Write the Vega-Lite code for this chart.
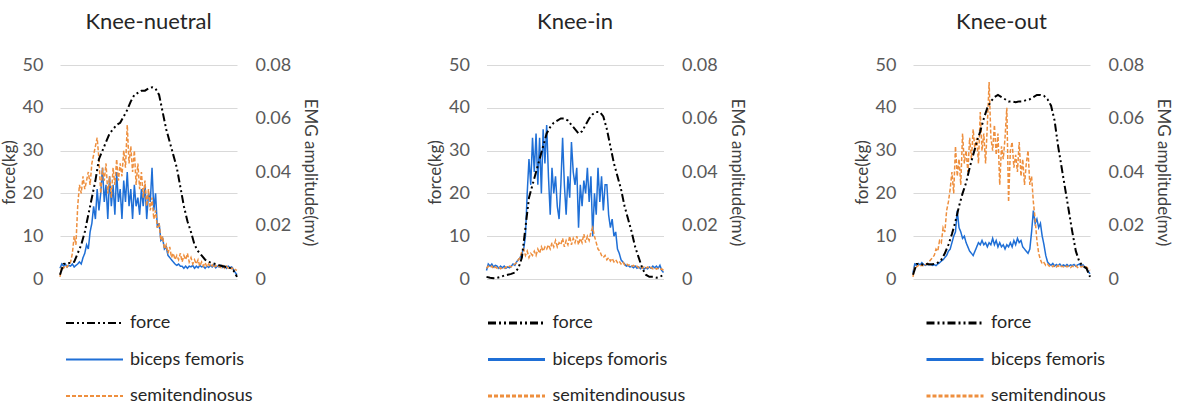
{
"$schema":"https://vega.github.io/schema/vega-lite/v6.json",
"padding":{"left":0,"top":11,"right":4,"bottom":0},
"config":{"font":"Lato","view":{"stroke":null},"concat":{"spacing":107.5},
"axis":{"labelFont":"Lato","titleFont":"Lato","labelFontSize":18,"titleFontSize":17,"titleFontWeight":"normal","labelColor":"#595959","titleColor":"#404040","domain":false,"ticks":false,"tickSize":0,"labelFlush":false,"labelOverlap":false,"gridColor":"#d9d9d9","gridWidth":1},
"title":{"font":"Lato","fontSize":22,"fontWeight":"normal","color":"#262626","frame":"group","offset":22,"anchor":"middle"}},
"datasets":{
"f1":[{"t":0,"force":1},{"t":2,"force":3.5},{"t":4,"force":3.6},{"t":6,"force":3.8},{"t":8,"force":4},{"t":10,"force":6},{"t":12,"force":8},{"t":14,"force":11},{"t":16,"force":15},{"t":18,"force":19},{"t":20,"force":23},{"t":22,"force":28},{"t":24,"force":30},{"t":26,"force":32},{"t":28,"force":34},{"t":30,"force":35},{"t":32,"force":36},{"t":34,"force":36.5},{"t":36,"force":38},{"t":38,"force":39.5},{"t":40,"force":41.5},{"t":42,"force":43},{"t":44,"force":43.5},{"t":46,"force":44},{"t":48,"force":44},{"t":50,"force":44.5},{"t":52,"force":44.8},{"t":54,"force":44.5},{"t":56,"force":43},{"t":58,"force":39},{"t":60,"force":35},{"t":62,"force":32},{"t":64,"force":29},{"t":66,"force":26},{"t":68,"force":21.5},{"t":70,"force":17},{"t":72,"force":13.5},{"t":74,"force":11},{"t":76,"force":8},{"t":78,"force":6.5},{"t":80,"force":5.5},{"t":82,"force":4.5},{"t":84,"force":4},{"t":86,"force":3.7},{"t":88,"force":3.5},{"t":90,"force":3.2},{"t":92,"force":3},{"t":94,"force":2.8},{"t":96,"force":2.6},{"t":98,"force":2},{"t":100,"force":0.5}],
"f2":[{"t":0,"force":0.5},{"t":2,"force":0.3},{"t":4,"force":0.2},{"t":6,"force":0.3},{"t":8,"force":0.5},{"t":10,"force":0.8},{"t":12,"force":1},{"t":14,"force":1.2},{"t":16,"force":1.5},{"t":18,"force":2.5},{"t":20,"force":5},{"t":22,"force":12},{"t":24,"force":19},{"t":26,"force":22},{"t":28,"force":25},{"t":30,"force":28},{"t":32,"force":31},{"t":34,"force":34},{"t":36,"force":35.5},{"t":38,"force":36.5},{"t":40,"force":37},{"t":42,"force":37.5},{"t":44,"force":37.5},{"t":46,"force":37},{"t":48,"force":36},{"t":50,"force":35},{"t":52,"force":34},{"t":54,"force":34.5},{"t":56,"force":36},{"t":58,"force":37.5},{"t":60,"force":38.5},{"t":62,"force":39},{"t":64,"force":39},{"t":66,"force":38},{"t":68,"force":35},{"t":70,"force":31},{"t":72,"force":27},{"t":74,"force":24},{"t":76,"force":21},{"t":78,"force":17},{"t":80,"force":14},{"t":82,"force":11},{"t":84,"force":7.5},{"t":86,"force":5},{"t":88,"force":2.5},{"t":90,"force":1},{"t":92,"force":0.5},{"t":94,"force":0.5},{"t":96,"force":0.3},{"t":98,"force":0.5},{"t":100,"force":1}],
"f3":[{"t":0,"force":1},{"t":2,"force":3.5},{"t":4,"force":3.5},{"t":6,"force":3.3},{"t":8,"force":3.5},{"t":10,"force":3.4},{"t":12,"force":3.5},{"t":14,"force":3.8},{"t":16,"force":4.5},{"t":18,"force":6},{"t":20,"force":8},{"t":22,"force":10.5},{"t":24,"force":13.5},{"t":26,"force":17},{"t":28,"force":20},{"t":30,"force":22.5},{"t":32,"force":26},{"t":34,"force":29},{"t":36,"force":32},{"t":38,"force":34.5},{"t":40,"force":37.5},{"t":42,"force":40},{"t":44,"force":41.5},{"t":46,"force":42.5},{"t":48,"force":43},{"t":50,"force":42.5},{"t":52,"force":42},{"t":54,"force":41.5},{"t":56,"force":41.5},{"t":58,"force":41.3},{"t":60,"force":41.5},{"t":62,"force":41.5},{"t":64,"force":41.8},{"t":66,"force":42},{"t":68,"force":42.5},{"t":70,"force":43},{"t":72,"force":43},{"t":74,"force":42.8},{"t":76,"force":42},{"t":78,"force":40.5},{"t":80,"force":37},{"t":82,"force":31},{"t":84,"force":26},{"t":86,"force":21},{"t":88,"force":16},{"t":90,"force":11},{"t":92,"force":6.5},{"t":94,"force":4},{"t":96,"force":3},{"t":98,"force":2.5},{"t":100,"force":0.5}],
"e1":[
{"t":0,"biceps femoris":0.004,"semitendinosus":0.0008},{"t":1,"biceps femoris":0.0056,"semitendinosus":0.0048},{"t":2,"biceps femoris":0.0048,"semitendinosus":0.004},{"t":3,"biceps femoris":0.0056,"semitendinosus":0.0051},{"t":4,"biceps femoris":0.0045,"semitendinosus":0.0045},{"t":5,"biceps femoris":0.0051,"semitendinosus":0.0056},{"t":6,"biceps femoris":0.0048,"semitendinosus":0.0064},{"t":7,"biceps femoris":0.0056,"semitendinosus":0.0096},{"t":8,"biceps femoris":0.0045,"semitendinosus":0.016},{"t":9,"biceps femoris":0.0051,"semitendinosus":0.0128},
{"t":10,"biceps femoris":0.0056,"semitendinosus":0.0272},{"t":11,"biceps femoris":0.0064,"semitendinosus":0.0352},{"t":12,"biceps femoris":0.0056,"semitendinosus":0.032},{"t":13,"biceps femoris":0.008,"semitendinosus":0.0384},{"t":14,"biceps femoris":0.0096,"semitendinosus":0.0336},{"t":15,"biceps femoris":0.0128,"semitendinosus":0.0368},{"t":16,"biceps femoris":0.0112,"semitendinosus":0.04},{"t":17,"biceps femoris":0.0176,"semitendinosus":0.0352},{"t":18,"biceps femoris":0.0208,"semitendinosus":0.0432},{"t":19,"biceps femoris":0.0272,"semitendinosus":0.0464},
{"t":20,"biceps femoris":0.0224,"semitendinosus":0.0496},{"t":21,"biceps femoris":0.0336,"semitendinosus":0.0528},{"t":22,"biceps femoris":0.0256,"semitendinosus":0.0448},{"t":23,"biceps femoris":0.032,"semitendinosus":0.032},{"t":24,"biceps femoris":0.0416,"semitendinosus":0.0416},{"t":25,"biceps femoris":0.0288,"semitendinosus":0.0368},{"t":26,"biceps femoris":0.0352,"semitendinosus":0.0432},{"t":27,"biceps femoris":0.0224,"semitendinosus":0.032},{"t":28,"biceps femoris":0.0384,"semitendinosus":0.0384},{"t":29,"biceps femoris":0.0272,"semitendinosus":0.0304},
{"t":30,"biceps femoris":0.0352,"semitendinosus":0.0416},{"t":31,"biceps femoris":0.024,"semitendinosus":0.0352},{"t":32,"biceps femoris":0.04,"semitendinosus":0.0448},{"t":33,"biceps femoris":0.0288,"semitendinosus":0.0368},{"t":34,"biceps femoris":0.0336,"semitendinosus":0.0432},{"t":35,"biceps femoris":0.0224,"semitendinosus":0.0384},{"t":36,"biceps femoris":0.0368,"semitendinosus":0.048},{"t":37,"biceps femoris":0.0288,"semitendinosus":0.0416},{"t":38,"biceps femoris":0.04,"semitendinosus":0.0576},{"t":39,"biceps femoris":0.0272,"semitendinosus":0.0432},
{"t":40,"biceps femoris":0.0336,"semitendinosus":0.0496},{"t":41,"biceps femoris":0.0224,"semitendinosus":0.04},{"t":42,"biceps femoris":0.0352,"semitendinosus":0.048},{"t":43,"biceps femoris":0.0272,"semitendinosus":0.0352},{"t":44,"biceps femoris":0.0304,"semitendinosus":0.0432},{"t":45,"biceps femoris":0.024,"semitendinosus":0.0336},{"t":46,"biceps femoris":0.0336,"semitendinosus":0.04},{"t":47,"biceps femoris":0.0272,"semitendinosus":0.0304},{"t":48,"biceps femoris":0.0352,"semitendinosus":0.0368},{"t":49,"biceps femoris":0.0224,"semitendinosus":0.0272},
{"t":50,"biceps femoris":0.032,"semitendinosus":0.0336},{"t":51,"biceps femoris":0.0288,"semitendinosus":0.0256},{"t":52,"biceps femoris":0.0416,"semitendinosus":0.0304},{"t":53,"biceps femoris":0.0256,"semitendinosus":0.0224},{"t":54,"biceps femoris":0.032,"semitendinosus":0.0256},{"t":55,"biceps femoris":0.0192,"semitendinosus":0.0192},{"t":56,"biceps femoris":0.0208,"semitendinosus":0.0208},{"t":57,"biceps femoris":0.0144,"semitendinosus":0.0144},{"t":58,"biceps femoris":0.0152,"semitendinosus":0.016},{"t":59,"biceps femoris":0.0112,"semitendinosus":0.0112},
{"t":60,"biceps femoris":0.012,"semitendinosus":0.0128},{"t":61,"biceps femoris":0.0088,"semitendinosus":0.0096},{"t":62,"biceps femoris":0.008,"semitendinosus":0.012},{"t":63,"biceps femoris":0.0072,"semitendinosus":0.008},{"t":64,"biceps femoris":0.0064,"semitendinosus":0.0096},{"t":65,"biceps femoris":0.0056,"semitendinosus":0.0072},{"t":66,"biceps femoris":0.0051,"semitendinosus":0.0088},{"t":67,"biceps femoris":0.0056,"semitendinosus":0.0072},{"t":68,"biceps femoris":0.0048,"semitendinosus":0.0096},{"t":69,"biceps femoris":0.0048,"semitendinosus":0.0064},
{"t":70,"biceps femoris":0.004,"semitendinosus":0.0088},{"t":71,"biceps femoris":0.0048,"semitendinosus":0.0072},{"t":72,"biceps femoris":0.004,"semitendinosus":0.0096},{"t":73,"biceps femoris":0.0048,"semitendinosus":0.0064},{"t":74,"biceps femoris":0.0045,"semitendinosus":0.008},{"t":75,"biceps femoris":0.0051,"semitendinosus":0.0056},{"t":76,"biceps femoris":0.004,"semitendinosus":0.0072},{"t":77,"biceps femoris":0.0048,"semitendinosus":0.0056},{"t":78,"biceps femoris":0.0042,"semitendinosus":0.0072},{"t":79,"biceps femoris":0.0051,"semitendinosus":0.0048},
{"t":80,"biceps femoris":0.0045,"semitendinosus":0.0064},{"t":81,"biceps femoris":0.0048,"semitendinosus":0.0048},{"t":82,"biceps femoris":0.004,"semitendinosus":0.0061},{"t":83,"biceps femoris":0.0048,"semitendinosus":0.0045},{"t":84,"biceps femoris":0.0043,"semitendinosus":0.0056},{"t":85,"biceps femoris":0.0051,"semitendinosus":0.0045},{"t":86,"biceps femoris":0.0045,"semitendinosus":0.0053},{"t":87,"biceps femoris":0.0053,"semitendinosus":0.0042},{"t":88,"biceps femoris":0.0042,"semitendinosus":0.0051},{"t":89,"biceps femoris":0.0048,"semitendinosus":0.0043},
{"t":90,"biceps femoris":0.0045,"semitendinosus":0.0048},{"t":91,"biceps femoris":0.0051,"semitendinosus":0.0042},{"t":92,"biceps femoris":0.0043,"semitendinosus":0.005},{"t":93,"biceps femoris":0.0048,"semitendinosus":0.004},{"t":94,"biceps femoris":0.004,"semitendinosus":0.0048},{"t":95,"biceps femoris":0.0048,"semitendinosus":0.004},{"t":96,"biceps femoris":0.0042,"semitendinosus":0.0045},{"t":97,"biceps femoris":0.0045,"semitendinosus":0.0038},{"t":98,"biceps femoris":0.0035,"semitendinosus":0.0042},{"t":99,"biceps femoris":0.0024,"semitendinosus":0.0035},
{"t":100,"biceps femoris":0.0016,"semitendinosus":0.0032}],
"e2":[
{"t":0,"biceps fomoris":0.0032,"semitendinousus":0.004},{"t":1,"biceps fomoris":0.0056,"semitendinousus":0.0048},{"t":2,"biceps fomoris":0.0048,"semitendinousus":0.0042},{"t":3,"biceps fomoris":0.0056,"semitendinousus":0.0048},{"t":4,"biceps fomoris":0.0045,"semitendinousus":0.0038},{"t":5,"biceps fomoris":0.0051,"semitendinousus":0.0045},{"t":6,"biceps fomoris":0.0048,"semitendinousus":0.004},{"t":7,"biceps fomoris":0.004,"semitendinousus":0.0045},{"t":8,"biceps fomoris":0.0048,"semitendinousus":0.0038},{"t":9,"biceps fomoris":0.0042,"semitendinousus":0.0043},
{"t":10,"biceps fomoris":0.0048,"semitendinousus":0.004},{"t":11,"biceps fomoris":0.004,"semitendinousus":0.0045},{"t":12,"biceps fomoris":0.0045,"semitendinousus":0.0042},{"t":13,"biceps fomoris":0.0042,"semitendinousus":0.0048},{"t":14,"biceps fomoris":0.0048,"semitendinousus":0.0045},{"t":15,"biceps fomoris":0.0056,"semitendinousus":0.0051},{"t":16,"biceps fomoris":0.0051,"semitendinousus":0.0056},{"t":17,"biceps fomoris":0.0064,"semitendinousus":0.0061},{"t":18,"biceps fomoris":0.0072,"semitendinousus":0.0072},{"t":19,"biceps fomoris":0.008,"semitendinousus":0.008},
{"t":20,"biceps fomoris":0.0096,"semitendinousus":0.0104},{"t":21,"biceps fomoris":0.0112,"semitendinousus":0.0112},{"t":22,"biceps fomoris":0.016,"semitendinousus":0.0088},{"t":23,"biceps fomoris":0.032,"semitendinousus":0.0104},{"t":24,"biceps fomoris":0.0448,"semitendinousus":0.008},{"t":25,"biceps fomoris":0.0352,"semitendinousus":0.0096},{"t":26,"biceps fomoris":0.0528,"semitendinousus":0.0088},{"t":27,"biceps fomoris":0.04,"semitendinousus":0.0104},{"t":28,"biceps fomoris":0.0544,"semitendinousus":0.0088},{"t":29,"biceps fomoris":0.0352,"semitendinousus":0.0112},
{"t":30,"biceps fomoris":0.0528,"semitendinousus":0.0096},{"t":31,"biceps fomoris":0.032,"semitendinousus":0.012},{"t":32,"biceps fomoris":0.056,"semitendinousus":0.0104},{"t":33,"biceps fomoris":0.0432,"semitendinousus":0.012},{"t":34,"biceps fomoris":0.0576,"semitendinousus":0.0112},{"t":35,"biceps fomoris":0.0384,"semitendinousus":0.0128},{"t":36,"biceps fomoris":0.024,"semitendinousus":0.0112},{"t":37,"biceps fomoris":0.0416,"semitendinousus":0.0136},{"t":38,"biceps fomoris":0.032,"semitendinousus":0.012},{"t":39,"biceps fomoris":0.0384,"semitendinousus":0.0144},
{"t":40,"biceps fomoris":0.0272,"semitendinousus":0.012},{"t":41,"biceps fomoris":0.0224,"semitendinousus":0.0136},{"t":42,"biceps fomoris":0.0352,"semitendinousus":0.0128},{"t":43,"biceps fomoris":0.0528,"semitendinousus":0.0152},{"t":44,"biceps fomoris":0.0352,"semitendinousus":0.012},{"t":45,"biceps fomoris":0.024,"semitendinousus":0.0144},{"t":46,"biceps fomoris":0.0384,"semitendinousus":0.0128},{"t":47,"biceps fomoris":0.0304,"semitendinousus":0.016},{"t":48,"biceps fomoris":0.0512,"semitendinousus":0.0128},{"t":49,"biceps fomoris":0.04,"semitendinousus":0.0152},
{"t":50,"biceps fomoris":0.0352,"semitendinousus":0.0136},{"t":51,"biceps fomoris":0.0416,"semitendinousus":0.016},{"t":52,"biceps fomoris":0.0192,"semitendinousus":0.0128},{"t":53,"biceps fomoris":0.0352,"semitendinousus":0.0152},{"t":54,"biceps fomoris":0.0272,"semitendinousus":0.0136},{"t":55,"biceps fomoris":0.0368,"semitendinousus":0.0168},{"t":56,"biceps fomoris":0.032,"semitendinousus":0.0136},{"t":57,"biceps fomoris":0.0416,"semitendinousus":0.016},{"t":58,"biceps fomoris":0.0288,"semitendinousus":0.0144},{"t":59,"biceps fomoris":0.0384,"semitendinousus":0.0176},
{"t":60,"biceps fomoris":0.016,"semitendinousus":0.0192},{"t":61,"biceps fomoris":0.032,"semitendinousus":0.016},{"t":62,"biceps fomoris":0.024,"semitendinousus":0.0136},{"t":63,"biceps fomoris":0.0416,"semitendinousus":0.0112},{"t":64,"biceps fomoris":0.0288,"semitendinousus":0.0104},{"t":65,"biceps fomoris":0.0384,"semitendinousus":0.0088},{"t":66,"biceps fomoris":0.0256,"semitendinousus":0.008},{"t":67,"biceps fomoris":0.0352,"semitendinousus":0.0088},{"t":68,"biceps fomoris":0.0352,"semitendinousus":0.0072},{"t":69,"biceps fomoris":0.024,"semitendinousus":0.008},
{"t":70,"biceps fomoris":0.0192,"semitendinousus":0.0067},{"t":71,"biceps fomoris":0.0224,"semitendinousus":0.0077},{"t":72,"biceps fomoris":0.016,"semitendinousus":0.0064},{"t":73,"biceps fomoris":0.0176,"semitendinousus":0.0072},{"t":74,"biceps fomoris":0.0112,"semitendinousus":0.0061},{"t":75,"biceps fomoris":0.0096,"semitendinousus":0.0067},{"t":76,"biceps fomoris":0.0072,"semitendinousus":0.0056},{"t":77,"biceps fomoris":0.0064,"semitendinousus":0.0064},{"t":78,"biceps fomoris":0.0056,"semitendinousus":0.0053},{"t":79,"biceps fomoris":0.0048,"semitendinousus":0.0058},
{"t":80,"biceps fomoris":0.0051,"semitendinousus":0.0051},{"t":81,"biceps fomoris":0.0045,"semitendinousus":0.0054},{"t":82,"biceps fomoris":0.0048,"semitendinousus":0.0048},{"t":83,"biceps fomoris":0.0042,"semitendinousus":0.0051},{"t":84,"biceps fomoris":0.0048,"semitendinousus":0.0045},{"t":85,"biceps fomoris":0.004,"semitendinousus":0.0048},{"t":86,"biceps fomoris":0.0045,"semitendinousus":0.0042},{"t":87,"biceps fomoris":0.0038,"semitendinousus":0.0046},{"t":88,"biceps fomoris":0.0043,"semitendinousus":0.004},{"t":89,"biceps fomoris":0.0037,"semitendinousus":0.0045},
{"t":90,"biceps fomoris":0.0042,"semitendinousus":0.004},{"t":91,"biceps fomoris":0.0038,"semitendinousus":0.0045},{"t":92,"biceps fomoris":0.0045,"semitendinousus":0.0038},{"t":93,"biceps fomoris":0.004,"semitendinousus":0.0043},{"t":94,"biceps fomoris":0.0048,"semitendinousus":0.0038},{"t":95,"biceps fomoris":0.0042,"semitendinousus":0.0042},{"t":96,"biceps fomoris":0.0048,"semitendinousus":0.0037},{"t":97,"biceps fomoris":0.004,"semitendinousus":0.004},{"t":98,"biceps fomoris":0.0051,"semitendinousus":0.0035},{"t":99,"biceps fomoris":0.0032,"semitendinousus":0.0038},
{"t":100,"biceps fomoris":0.0024,"semitendinousus":0.0032}],
"e3":[
{"t":0,"biceps femoris":0.0024,"semitendinous":0.0008},{"t":1,"biceps femoris":0.0056,"semitendinous":0.0048},{"t":2,"biceps femoris":0.0051,"semitendinous":0.0045},{"t":3,"biceps femoris":0.0058,"semitendinous":0.0051},{"t":4,"biceps femoris":0.0053,"semitendinous":0.0046},{"t":5,"biceps femoris":0.0061,"semitendinous":0.0053},{"t":6,"biceps femoris":0.0054,"semitendinous":0.0048},{"t":7,"biceps femoris":0.0051,"semitendinous":0.0054},{"t":8,"biceps femoris":0.0058,"semitendinous":0.0056},{"t":9,"biceps femoris":0.0053,"semitendinous":0.0064},
{"t":10,"biceps femoris":0.0056,"semitendinous":0.0072},{"t":11,"biceps femoris":0.0051,"semitendinous":0.008},{"t":12,"biceps femoris":0.0054,"semitendinous":0.0088},{"t":13,"biceps femoris":0.005,"semitendinous":0.0112},{"t":14,"biceps femoris":0.0056,"semitendinous":0.0104},{"t":15,"biceps femoris":0.0061,"semitendinous":0.0144},{"t":16,"biceps femoris":0.0067,"semitendinous":0.0136},{"t":17,"biceps femoris":0.0072,"semitendinous":0.0192},{"t":18,"biceps femoris":0.008,"semitendinous":0.0176},{"t":19,"biceps femoris":0.0088,"semitendinous":0.0256},
{"t":20,"biceps femoris":0.0104,"semitendinous":0.0288},{"t":21,"biceps femoris":0.0112,"semitendinous":0.0336},{"t":22,"biceps femoris":0.0136,"semitendinous":0.04},{"t":23,"biceps femoris":0.016,"semitendinous":0.032},{"t":24,"biceps femoris":0.0176,"semitendinous":0.0496},{"t":25,"biceps femoris":0.0256,"semitendinous":0.0384},{"t":26,"biceps femoris":0.0192,"semitendinous":0.0448},{"t":27,"biceps femoris":0.0176,"semitendinous":0.0352},{"t":28,"biceps femoris":0.0152,"semitendinous":0.0544},{"t":29,"biceps femoris":0.016,"semitendinous":0.0432},
{"t":30,"biceps femoris":0.0136,"semitendinous":0.048},{"t":31,"biceps femoris":0.012,"semitendinous":0.04},{"t":32,"biceps femoris":0.0104,"semitendinous":0.0528},{"t":33,"biceps femoris":0.0096,"semitendinous":0.0448},{"t":34,"biceps femoris":0.0088,"semitendinous":0.056},{"t":35,"biceps femoris":0.0104,"semitendinous":0.048},{"t":36,"biceps femoris":0.012,"semitendinous":0.0528},{"t":37,"biceps femoris":0.0136,"semitendinous":0.0432},{"t":38,"biceps femoris":0.0128,"semitendinous":0.0624},{"t":39,"biceps femoris":0.0144,"semitendinous":0.048},
{"t":40,"biceps femoris":0.0128,"semitendinous":0.0544},{"t":41,"biceps femoris":0.0136,"semitendinous":0.0432},{"t":42,"biceps femoris":0.012,"semitendinous":0.0576},{"t":43,"biceps femoris":0.0136,"semitendinous":0.0736},{"t":44,"biceps femoris":0.0128,"semitendinous":0.0528},{"t":45,"biceps femoris":0.0152,"semitendinous":0.048},{"t":46,"biceps femoris":0.0128,"semitendinous":0.0576},{"t":47,"biceps femoris":0.0144,"semitendinous":0.0464},{"t":48,"biceps femoris":0.012,"semitendinous":0.0544},{"t":49,"biceps femoris":0.0136,"semitendinous":0.0352},
{"t":50,"biceps femoris":0.012,"semitendinous":0.0496},{"t":51,"biceps femoris":0.0128,"semitendinous":0.0448},{"t":52,"biceps femoris":0.0112,"semitendinous":0.0528},{"t":53,"biceps femoris":0.0128,"semitendinous":0.064},{"t":54,"biceps femoris":0.012,"semitendinous":0.0288},{"t":55,"biceps femoris":0.0136,"semitendinous":0.048},{"t":56,"biceps femoris":0.012,"semitendinous":0.0512},{"t":57,"biceps femoris":0.0144,"semitendinous":0.0416},{"t":58,"biceps femoris":0.0128,"semitendinous":0.0464},{"t":59,"biceps femoris":0.0152,"semitendinous":0.04},
{"t":60,"biceps femoris":0.0136,"semitendinous":0.0512},{"t":61,"biceps femoris":0.0144,"semitendinous":0.0384},{"t":62,"biceps femoris":0.012,"semitendinous":0.0448},{"t":63,"biceps femoris":0.0112,"semitendinous":0.0352},{"t":64,"biceps femoris":0.0104,"semitendinous":0.0432},{"t":65,"biceps femoris":0.0096,"semitendinous":0.048},{"t":66,"biceps femoris":0.0112,"semitendinous":0.0352},{"t":67,"biceps femoris":0.0176,"semitendinous":0.0384},{"t":68,"biceps femoris":0.0256,"semitendinous":0.0288},{"t":69,"biceps femoris":0.0208,"semitendinous":0.0224},
{"t":70,"biceps femoris":0.0224,"semitendinous":0.0144},{"t":71,"biceps femoris":0.0192,"semitendinous":0.0096},{"t":72,"biceps femoris":0.0208,"semitendinous":0.0072},{"t":73,"biceps femoris":0.016,"semitendinous":0.0056},{"t":74,"biceps femoris":0.0128,"semitendinous":0.0061},{"t":75,"biceps femoris":0.0088,"semitendinous":0.0051},{"t":76,"biceps femoris":0.0064,"semitendinous":0.0056},{"t":77,"biceps femoris":0.0056,"semitendinous":0.0048},{"t":78,"biceps femoris":0.0051,"semitendinous":0.0053},{"t":79,"biceps femoris":0.0058,"semitendinous":0.0046},
{"t":80,"biceps femoris":0.0048,"semitendinous":0.0051},{"t":81,"biceps femoris":0.0054,"semitendinous":0.0045},{"t":82,"biceps femoris":0.005,"semitendinous":0.005},{"t":83,"biceps femoris":0.0056,"semitendinous":0.0043},{"t":84,"biceps femoris":0.0048,"semitendinous":0.0048},{"t":85,"biceps femoris":0.0053,"semitendinous":0.0045},{"t":86,"biceps femoris":0.0048,"semitendinous":0.0051},{"t":87,"biceps femoris":0.0054,"semitendinous":0.0045},{"t":88,"biceps femoris":0.0048,"semitendinous":0.0048},{"t":89,"biceps femoris":0.0053,"semitendinous":0.0043},
{"t":90,"biceps femoris":0.005,"semitendinous":0.0048},{"t":91,"biceps femoris":0.0054,"semitendinous":0.0045},{"t":92,"biceps femoris":0.0048,"semitendinous":0.005},{"t":93,"biceps femoris":0.0053,"semitendinous":0.0043},{"t":94,"biceps femoris":0.0056,"semitendinous":0.0048},{"t":95,"biceps femoris":0.0048,"semitendinous":0.0045},{"t":96,"biceps femoris":0.0053,"semitendinous":0.0048},{"t":97,"biceps femoris":0.0045,"semitendinous":0.0042},{"t":98,"biceps femoris":0.004,"semitendinous":0.0045},{"t":99,"biceps femoris":0.0029,"semitendinous":0.0038},
{"t":100,"biceps femoris":0.0019,"semitendinous":0.0032}]
},
"hconcat":[
{"title":{"text":"Knee-nuetral"},"width":177,"height":214,
"layer":[
{"data":{"name":"e1"},"transform":[{"fold":["biceps femoris","semitendinosus"],"as":["key","value"]}],
"mark":{"type":"line","strokeWidth":1.5},
"encoding":{"x":{"field":"t","type":"quantitative","scale":{"domain":[0,100],"nice":false,"zero":false},"axis":null},
"y":{"field":"value","type":"quantitative","scale":{"domain":[0,0.08],"nice":false},"axis":{"orient":"right","title":"EMG amplitude(mv)","values":[0,0.02,0.04,0.06,0.08],"format":".2~f","grid":false,"labelPadding":18,"titlePadding":10}},
"color":{"field":"key","type":"nominal"},"strokeDash":{"field":"key","type":"nominal"}}},
{"data":{"name":"f1"},"transform":[{"fold":["force"],"as":["key","value"]}],
"mark":{"type":"line","strokeWidth":2},
"encoding":{"x":{"field":"t","type":"quantitative","scale":{"domain":[0,100],"nice":false,"zero":false},"axis":null},
"y":{"field":"value","type":"quantitative","scale":{"domain":[0,50],"nice":false},"axis":{"orient":"left","title":"force(kg)","values":[0,10,20,30,40,50],"grid":true,"labelPadding":17,"titlePadding":4}},
"color":{"field":"key","type":"nominal","scale":{"domain":["force","biceps femoris","semitendinosus"],"range":["#000000","#1f6fd6","#ee8f3e"]},
"legend":{"orient":"none","legendX":5,"legendY":248,"title":null,"direction":"vertical","symbolType":"stroke","symbolSize":3249,"symbolStrokeWidth":2,"labelFontSize":18,"labelFont":"Lato","labelColor":"#262626","labelOffset":6,"clipHeight":20,"rowPadding":16.5,"padding":0,"labelLimit":400,"encode":{"symbols":{"update":{"strokeDash":{"signal":"datum.index === 0 ? [15,6,2,5,2,6] : datum.index === 2 ? [5,3] : [1,0]"}}}}}},
"strokeDash":{"field":"key","type":"nominal","scale":{"domain":["force","biceps femoris","semitendinosus"],"range":[[8,3,2,3,2,3],[1,0],[4,2]]},
"legend":{"orient":"none","legendX":5,"legendY":248,"title":null,"direction":"vertical","symbolType":"stroke","symbolSize":3249,"symbolStrokeWidth":2,"labelFontSize":18,"labelFont":"Lato","labelColor":"#262626","labelOffset":6,"clipHeight":20,"rowPadding":16.5,"padding":0,"labelLimit":400,"encode":{"symbols":{"update":{"strokeDash":{"signal":"datum.index === 0 ? [15,6,2,5,2,6] : datum.index === 2 ? [5,3] : [1,0]"}}}}}}}}
],
"resolve":{"scale":{"y":"independent"}}},
{"title":{"text":"Knee-in"},"width":177,"height":214,
"layer":[
{"data":{"name":"e2"},"transform":[{"fold":["biceps fomoris","semitendinousus"],"as":["key","value"]}],
"mark":{"type":"line","strokeWidth":1.5},
"encoding":{"x":{"field":"t","type":"quantitative","scale":{"domain":[0,100],"nice":false,"zero":false},"axis":null},
"y":{"field":"value","type":"quantitative","scale":{"domain":[0,0.08],"nice":false},"axis":{"orient":"right","title":"EMG amplitude(mv)","values":[0,0.02,0.04,0.06,0.08],"format":".2~f","grid":false,"labelPadding":18,"titlePadding":10}},
"color":{"field":"key","type":"nominal"},"strokeDash":{"field":"key","type":"nominal"}}},
{"data":{"name":"f2"},"transform":[{"fold":["force"],"as":["key","value"]}],
"mark":{"type":"line","strokeWidth":2},
"encoding":{"x":{"field":"t","type":"quantitative","scale":{"domain":[0,100],"nice":false,"zero":false},"axis":null},
"y":{"field":"value","type":"quantitative","scale":{"domain":[0,50],"nice":false},"axis":{"orient":"left","title":"force(kg)","values":[0,10,20,30,40,50],"grid":true,"labelPadding":17,"titlePadding":4}},
"color":{"field":"key","type":"nominal","scale":{"domain":["force","biceps fomoris","semitendinousus"],"range":["#000000","#1f6fd6","#ee8f3e"]},
"legend":{"orient":"none","legendX":0,"legendY":248,"title":null,"direction":"vertical","symbolType":"stroke","symbolSize":3249,"symbolStrokeWidth":3,"labelFontSize":18,"labelFont":"Lato","labelColor":"#262626","labelOffset":6,"clipHeight":20,"rowPadding":16.5,"padding":0,"labelLimit":400,"encode":{"symbols":{"update":{"strokeDash":{"signal":"datum.index === 0 ? [15,6,2,5,2,6] : datum.index === 2 ? [5,3] : [1,0]"}}}}}},
"strokeDash":{"field":"key","type":"nominal","scale":{"domain":["force","biceps fomoris","semitendinousus"],"range":[[8,3,2,3,2,3],[1,0],[4,2]]},
"legend":{"orient":"none","legendX":0,"legendY":248,"title":null,"direction":"vertical","symbolType":"stroke","symbolSize":3249,"symbolStrokeWidth":3,"labelFontSize":18,"labelFont":"Lato","labelColor":"#262626","labelOffset":6,"clipHeight":20,"rowPadding":16.5,"padding":0,"labelLimit":400,"encode":{"symbols":{"update":{"strokeDash":{"signal":"datum.index === 0 ? [15,6,2,5,2,6] : datum.index === 2 ? [5,3] : [1,0]"}}}}}}}}
],
"resolve":{"scale":{"y":"independent"}}},
{"title":{"text":"Knee-out"},"width":177,"height":214,
"layer":[
{"data":{"name":"e3"},"transform":[{"fold":["biceps femoris","semitendinous"],"as":["key","value"]}],
"mark":{"type":"line","strokeWidth":1.5},
"encoding":{"x":{"field":"t","type":"quantitative","scale":{"domain":[0,100],"nice":false,"zero":false},"axis":null},
"y":{"field":"value","type":"quantitative","scale":{"domain":[0,0.08],"nice":false},"axis":{"orient":"right","title":"EMG amplitude(mv)","values":[0,0.02,0.04,0.06,0.08],"format":".2~f","grid":false,"labelPadding":18,"titlePadding":10}},
"color":{"field":"key","type":"nominal"},"strokeDash":{"field":"key","type":"nominal"}}},
{"data":{"name":"f3"},"transform":[{"fold":["force"],"as":["key","value"]}],
"mark":{"type":"line","strokeWidth":2},
"encoding":{"x":{"field":"t","type":"quantitative","scale":{"domain":[0,100],"nice":false,"zero":false},"axis":null},
"y":{"field":"value","type":"quantitative","scale":{"domain":[0,50],"nice":false},"axis":{"orient":"left","title":"force(kg)","values":[0,10,20,30,40,50],"grid":true,"labelPadding":17,"titlePadding":4}},
"color":{"field":"key","type":"nominal","scale":{"domain":["force","biceps femoris","semitendinous"],"range":["#000000","#1f6fd6","#ee8f3e"]},
"legend":{"orient":"none","legendX":12,"legendY":248,"title":null,"direction":"vertical","symbolType":"stroke","symbolSize":3249,"symbolStrokeWidth":3,"labelFontSize":18,"labelFont":"Lato","labelColor":"#262626","labelOffset":6,"clipHeight":20,"rowPadding":16.5,"padding":0,"labelLimit":400,"encode":{"symbols":{"update":{"strokeDash":{"signal":"datum.index === 0 ? [15,6,2,5,2,6] : datum.index === 2 ? [5,3] : [1,0]"}}}}}},
"strokeDash":{"field":"key","type":"nominal","scale":{"domain":["force","biceps femoris","semitendinous"],"range":[[8,3,2,3,2,3],[1,0],[4,2]]},
"legend":{"orient":"none","legendX":12,"legendY":248,"title":null,"direction":"vertical","symbolType":"stroke","symbolSize":3249,"symbolStrokeWidth":3,"labelFontSize":18,"labelFont":"Lato","labelColor":"#262626","labelOffset":6,"clipHeight":20,"rowPadding":16.5,"padding":0,"labelLimit":400,"encode":{"symbols":{"update":{"strokeDash":{"signal":"datum.index === 0 ? [15,6,2,5,2,6] : datum.index === 2 ? [5,3] : [1,0]"}}}}}}}}
],
"resolve":{"scale":{"y":"independent"}}}
],
"resolve":{"scale":{"color":"independent","strokeDash":"independent"}}
}
